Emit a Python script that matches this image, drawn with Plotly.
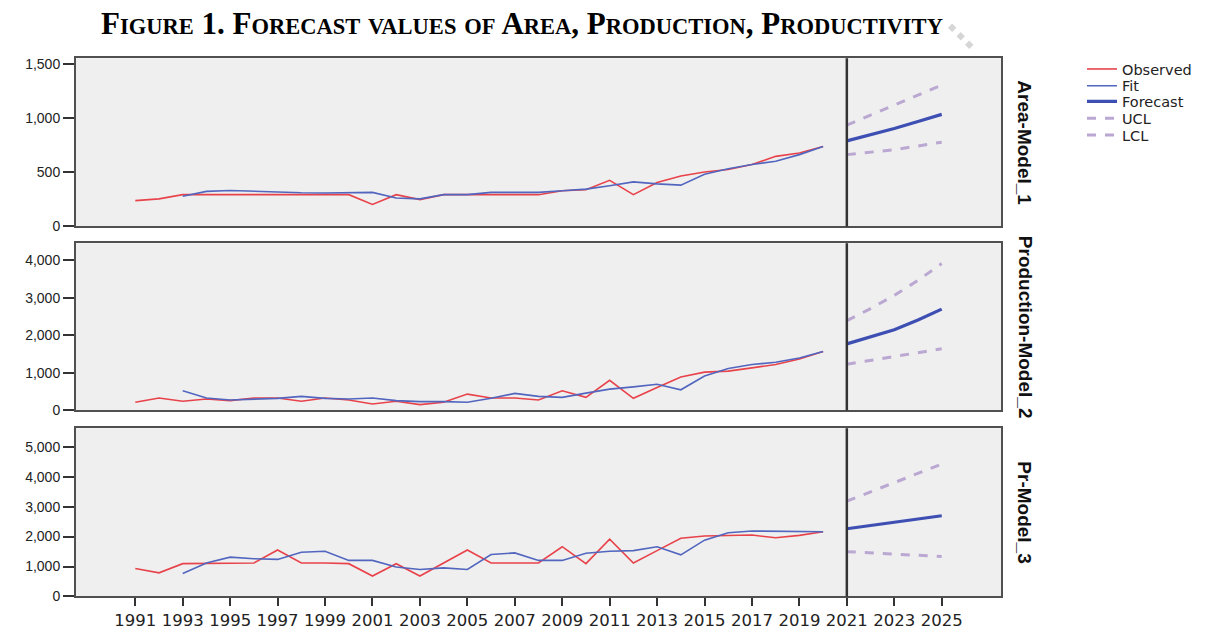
import plotly.graph_objects as go

# ---------------- data ----------------
years_obs = list(range(1991, 2021))
years_fit = list(range(1993, 2021))
years_fc = list(range(2021, 2026))

area_obs = [239, 255, 294, 294, 294, 294, 290, 294, 294, 294,
            203, 294, 248, 294, 294, 294, 294, 294, 330, 339,
            427, 294, 406, 467, 503, 527, 573, 648, 679, 739]
area_fit = [279, 324, 333, 325, 320, 312, 310, 310, 315, 263,
            255, 294, 294, 315, 315, 315, 330, 345, 376, 412,
            394, 382, 482, 533, 573, 603, 664, 739]
area_fc = [791, 848, 906, 970, 1036]
area_ucl = [936, 1027, 1118, 1210, 1306]
area_lcl = [664, 686, 709, 744, 779]

prod_obs = [217, 332, 244, 305, 262, 332, 332, 244, 332, 279,
            174, 244, 157, 217, 436, 332, 332, 279, 524, 349,
            803, 323, 611, 890, 1021, 1047, 1134, 1222, 1370, 1571]
prod_fit = [524, 332, 279, 305, 323, 375, 323, 305, 332, 262,
            235, 235, 217, 323, 454, 375, 349, 462, 567, 628,
            698, 550, 916, 1117, 1222, 1283, 1396, 1571]
prod_fc = [1772, 1950, 2147, 2405, 2696]
prod_ucl = [2391, 2710, 3063, 3460, 3909]
prod_lcl = [1230, 1330, 1431, 1535, 1641]

pr_obs = [931, 790, 1095, 1095, 1095, 1117, 1552, 1117, 1117, 1095,
          681, 1095, 681, 1117, 1552, 1117, 1117, 1117, 1661, 1095,
          1912, 1117, 1530, 1945, 2020, 2040, 2050, 1960, 2040, 2163]
pr_fit = [768, 1117, 1313, 1259, 1237, 1477, 1510, 1204, 1204, 986,
          899, 953, 899, 1400, 1455, 1204, 1204, 1444, 1510, 1530,
          1661, 1390, 1880, 2130, 2185, 2185, 2163, 2163]
pr_fc = [2261, 2370, 2480, 2590, 2696]
pr_ucl = [3186, 3490, 3784, 4100, 4418]
pr_lcl = [1497, 1455, 1410, 1370, 1333]

panel_names = ["Area-Model_1", "Production-Model_2", "Pr-Model_3"]
y_ranges = [[0, 1555], [0, 4450], [0, 5620]]
y_ticks = [[0, 500, 1000, 1500], [0, 1000, 2000, 3000, 4000], [0, 1000, 2000, 3000, 4000, 5000]]
x_ticks = list(range(1991, 2026, 2))
forecast_start = 2021
series_names = ["Observed", "Fit", "Forecast", "UCL", "LCL"]

panels = [
    (area_obs, area_fit, area_fc, area_ucl, area_lcl),
    (prod_obs, prod_fit, prod_fc, prod_ucl, prod_lcl),
    (pr_obs, pr_fit, pr_fc, pr_ucl, pr_lcl),
]

# ---------------- geometry / style ----------------
OFF = 8                       # page body margin of the browser
W, H = 1230 - OFF, 632 - OFF  # figure size so it ends at the window edge


def px(rx):
    return (rx - OFF) / W


def py(ry):
    return 1 - (ry - OFF) / H


C_OBS = "#e8434b"
C_FIT = "#5266bf"
C_FC = "#3e4fb3"
C_CL = "#bba8d2"
FRAME = "#505050"
styles = [
    dict(color=C_OBS, width=1.6),
    dict(color=C_FIT, width=1.6),
    dict(color=C_FC, width=3.2),
    dict(color=C_CL, width=3, dash="dash"),
    dict(color=C_CL, width=3, dash="dash"),
]

x_dom = [px(76), px(1001)]
y_px = [(57, 228), (245, 415), (433, 604)]
legend_y = [68, 85, 101, 118, 135]
legend_keys = ["legend", "legend2", "legend3", "legend4", "legend5"]

fig = go.Figure()

for i, pdata in enumerate(panels):
    ax = "" if i == 0 else str(i + 1)
    xa, ya = "x" + ax, "y" + ax
    xs = [years_obs, years_fit, years_fc, years_fc, years_fc]
    for k in range(5):
        fig.add_trace(go.Scatter(x=xs[k], y=pdata[k], mode="lines", name=series_names[k],
                                 line=styles[k], xaxis=xa, yaxis=ya,
                                 showlegend=(i == 0), legend=legend_keys[k]))

    top, bot = y_px[i]
    bottom_panel = i == 2
    fig.update_layout(**{
        "xaxis" + ax: dict(
            domain=x_dom, range=[1988.5, 2027.5], anchor=ya,
            showline=True, linecolor=FRAME, linewidth=2, mirror=True,
            showgrid=False, zeroline=False,
            tickvals=x_ticks if bottom_panel else [],
            ticks="outside" if bottom_panel else "",
            ticklen=8, tickwidth=2, tickcolor="#333",
            showticklabels=bottom_panel,
            tickfont=dict(family="DejaVu Sans", size=16.5, color="#222"),
        ),
        "yaxis" + ax: dict(
            domain=[py(bot), py(top)], range=y_ranges[i], anchor=xa,
            showline=True, linecolor=FRAME, linewidth=2, mirror=True,
            showgrid=False, zeroline=False,
            tickvals=y_ticks[i], tickformat=",d",
            ticks="outside", ticklen=11, tickwidth=2, tickcolor="#333",
            tickfont=dict(family="Liberation Sans, Arial", size=14, color="#222"),
        ),
    })
    fig.add_shape(type="line", xref=xa, yref=ya + " domain",
                  x0=forecast_start, x1=forecast_start, y0=0, y1=1,
                  line=dict(color="#333", width=2.5))
    fig.add_annotation(text="<b>" + panel_names[i] + "</b>", xref="paper", yref="paper",
                       x=px(1025), y=py((top + bot) / 2), showarrow=False,
                       textangle=90, xanchor="center", yanchor="middle",
                       font=dict(family="Liberation Sans Narrow, Arial Narrow, Liberation Sans",
                                 size=19, color="#111"))


def small_caps(text, big, small):
    out = []
    for word in text.split(" "):
        parts = []
        for j, ch in enumerate(word):
            if ch.isalpha() and (j > 0 or ch.islower()):
                parts.append(f'<span style="font-size:{small}px">{ch.upper()}</span>')
            else:
                parts.append(ch)
        out.append("".join(parts))
    return " ".join(out)


title_txt = small_caps("Figure 1. Forecast values of Area, Production, Productivity", 31, 22.5)
fig.add_annotation(text="<b>" + title_txt + "</b>", xref="paper", yref="paper",
                   x=px(522), y=py(22), showarrow=False, xanchor="center", yanchor="middle",
                   font=dict(family="Liberation Serif, Times New Roman, serif", size=31, color="#000"))

# faint scan artifact near title
fig.add_shape(type="line", xref="paper", yref="paper",
              x0=px(950), y0=py(24), x1=px(973), y1=py(47),
              line=dict(color="#d6d6d6", width=6, dash="dot"))

legend_layout = {}
for k, key in enumerate(legend_keys):
    legend_layout[key] = dict(
        x=px(1082), y=py(legend_y[k]), xanchor="left", yanchor="middle",
        bgcolor="rgba(0,0,0,0)", borderwidth=0,
        font=dict(family="DejaVu Sans", size=14.5, color="#222"),
        itemwidth=30,
    )

fig.update_layout(
    width=W, height=H, autosize=False,
    margin=dict(l=0, r=0, t=0, b=0),
    paper_bgcolor="white", plot_bgcolor="#efefef",
    **legend_layout,
)

fig.write_html("out.html")
